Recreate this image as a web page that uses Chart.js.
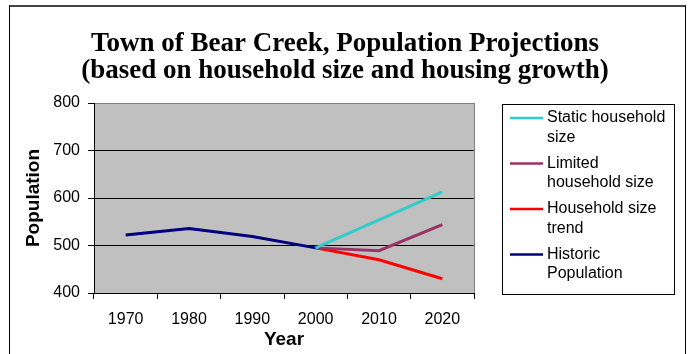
<!DOCTYPE html>
<html>
<head>
<meta charset="utf-8">
<script src="https://cdn.jsdelivr.net/npm/chart.js@4/dist/chart.umd.min.js"></script>
<style>
  html, body { margin: 0; padding: 0; background: #fff; }
  canvas { display: block; }
</style>
</head>
<body>
<canvas id="popChart" width="689" height="354"></canvas>
<script>
// Data
const years = ['1970', '1980', '1990', '2000', '2010', '2020'];
const staticSize = [null, null, null, 495, 554, 613];
const limitedSize = [null, null, null, 495, 489, 544];
const sizeTrend = [null, null, null, 495, 470, 430];
const historic = [522, 536, 519, 495, null, null];
const seriesNames = ['Static household size', 'Limited household size', 'Household size trend', 'Historic Population'];
const legendLines = [['Static household', 'size'], ['Limited', 'household size'], ['Household size', 'trend'], ['Historic', 'Population']];
const titleLines = ['Town of Bear Creek, Population Projections', '(based on household size and housing growth)'];
const yTicks = [400, 500, 600, 700, 800];

// Frame, grey plot background
const backdrop = {
    id: 'backdrop',
    beforeDraw(chart) {
        const c = chart.ctx, a = chart.chartArea;
        c.save();
        c.fillStyle = '#fff';
        c.fillRect(0, 0, chart.width, chart.height);
        c.fillStyle = '#444';
        c.fillRect(9, 5, 677, 2);
        c.fillStyle = '#000';
        c.fillRect(9, 5, 1, chart.height);
        c.fillRect(685, 5, 1, chart.height);
        c.fillStyle = '#c0c0c0';
        c.fillRect(a.left, a.top, a.right - a.left, a.bottom - a.top);
        c.strokeStyle = '#808080';
        c.lineWidth = 1;
        c.strokeRect(a.left + 0.5, a.top + 0.5, a.right - a.left, a.bottom - a.top);
        c.restore();
    }
};

// Two-line title centred over the whole frame
const frameTitle = {
    id: 'frameTitle',
    afterDraw(chart) {
        const c = chart.ctx;
        c.save();
        c.font = 'bold 27px "Liberation Serif", "Times New Roman", serif';
        c.fillStyle = '#000';
        c.textAlign = 'center';
        c.textBaseline = 'alphabetic';
        c.fillText(titleLines[0], 345, 51);
        c.fillText(titleLines[1], 345, 78);
        c.restore();
    }
};

// Boxed legend with wrapped labels
const boxLegend = {
    id: 'boxLegend',
    afterDraw(chart) {
        const c = chart.ctx;
        c.save();
        c.fillStyle = '#fff';
        c.fillRect(502, 104, 172, 190);
        c.strokeStyle = '#000';
        c.lineWidth = 1;
        c.strokeRect(502.5, 104.5, 172, 190);
        c.font = '16px "Liberation Sans", Arial, sans-serif';
        c.textBaseline = 'middle';
        c.fillStyle = '#000';
        chart.data.datasets.forEach((ds, i) => {
            const y = 118 + i * 45.5;
            c.strokeStyle = ds.borderColor;
            c.lineWidth = 2.5;
            c.beginPath();
            c.moveTo(510, y);
            c.lineTo(543, y);
            c.stroke();
            legendLines[i].forEach((t, j) => c.fillText(t, 547, y + j * 19.5));
        });
        c.restore();
    }
};

const ctx = document.getElementById('popChart').getContext('2d');

const popChart = new Chart(ctx, {
    type: 'line',
    data: {
        labels: years,
        datasets: [
            { label: seriesNames[0], data: staticSize, borderColor: '#33cccc' },
            { label: seriesNames[1], data: limitedSize, borderColor: '#993366' },
            { label: seriesNames[2], data: sizeTrend, borderColor: '#ff0000' },
            { label: seriesNames[3], data: historic, borderColor: '#000080' }
        ]
    },
    options: {
        responsive: false,
        animation: false,
        elements: {
            line: { borderWidth: 3, tension: 0 },
            point: { radius: 0 }
        },
        layout: { padding: { top: 103, left: 0, right: 215, bottom: 0 } },
        plugins: {
            legend: { display: false },
            tooltip: { enabled: false },
            title: { display: false }
        },
        scales: {
            x: {
                offset: true,
                afterFit(scale) { scale.height = 61; },
                grid: { drawOnChartArea: false, tickLength: 6, color: '#000', offset: true },
                border: { color: '#000', width: 1 },
                ticks: { color: '#000', padding: 11, font: { family: '"Liberation Sans", Arial', size: 16 } },
                title: {
                    display: true,
                    text: 'Year',
                    color: '#000',
                    font: { family: '"Liberation Sans", Arial', size: 19, weight: 'bold' },
                    padding: { top: 0, bottom: 3 }
                }
            },
            y: {
                min: 400,
                max: 800,
                afterFit(scale) { scale.width = 94; },
                afterBuildTicks(scale) { scale.ticks = yTicks.map(v => ({ value: v })); },
                grid: {
                    tickLength: 6,
                    color: c => (c.tick && c.tick.value === 800 ? '#808080' : '#000'),
                    tickColor: '#000'
                },
                border: { color: '#000', width: 1 },
                ticks: { color: '#000', padding: 8, font: { family: '"Liberation Sans", Arial', size: 16 } },
                title: {
                    display: true,
                    text: 'Population',
                    color: '#000',
                    font: { family: '"Liberation Sans", Arial', size: 19, weight: 'bold' },
                    padding: { top: 22, bottom: 0 }
                }
            }
        }
    },
    plugins: [backdrop, boxLegend, frameTitle]
});
</script>
</body>
</html>
